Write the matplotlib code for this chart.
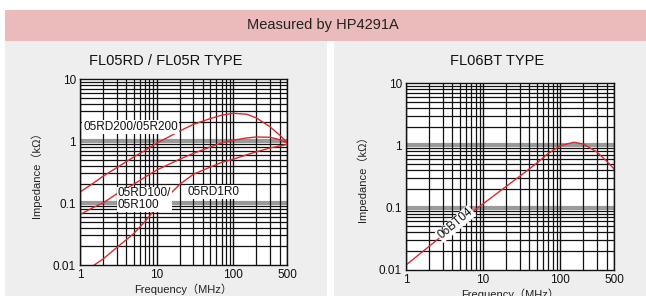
import matplotlib
matplotlib.use("Agg")
import matplotlib.pyplot as plt
from matplotlib.patches import Rectangle
from matplotlib.ticker import FixedLocator, LogLocator, NullFormatter

plt.rcParams['font.family'] = ['Liberation Sans', 'Noto Sans CJK JP', 'DejaVu Sans']

# ---------------- data ----------------
freq_l = [1, 1.5, 2, 3, 5, 7, 10, 15, 20, 30, 50, 70, 100, 150, 200, 300, 400, 500]
z_05rd200 = [0.15, 0.21, 0.27, 0.37, 0.55, 0.70, 0.92, 1.2, 1.45, 1.85, 2.3, 2.6, 2.8, 2.7, 2.35, 1.7, 1.25, 0.95]
z_05rd100 = [0.065, 0.085, 0.10, 0.14, 0.20, 0.26, 0.34, 0.43, 0.51, 0.63, 0.80, 0.93, 1.03, 1.12, 1.16, 1.15, 1.05, 0.93]
freq_1r0 = [1.5, 2, 3, 5, 7, 10, 15, 20, 30, 50, 70, 100, 150, 200, 300, 400, 500]
z_05rd1r0 = [0.0098, 0.0125, 0.019, 0.032, 0.05, 0.085, 0.14, 0.2, 0.29, 0.38, 0.45, 0.51, 0.6, 0.67, 0.77, 0.83, 0.88]

freq_r = [1, 2, 3, 5, 7, 10, 20, 30, 50, 70, 100, 150, 200, 300, 400, 500]
z_06bt04 = [0.012, 0.024, 0.036, 0.06, 0.083, 0.115, 0.22, 0.32, 0.52, 0.74, 0.98, 1.12, 1.05, 0.78, 0.56, 0.42]

x_ticks = [1, 10, 100, 500]
x_ticklabels = ["1", "10", "100", "500"]
y_ticks = [0.01, 0.1, 1, 10]
y_ticklabels = ["0.01", "0.1", "1", "10"]

header = "Measured by HP4291A"
title_l = "FL05RD / FL05R TYPE"
title_r = "FL06BT TYPE"
xlabel = "Frequency（MHz）"
ylabel = "Impedance（kΩ）"

# ---------------- figure ----------------
W, H = 646, 296
fig = plt.figure(figsize=(W / 100, H / 100), dpi=100)
fig.patch.set_facecolor("white")


def px_rect(x0, y0, x1, y1, color):
    fig.patches.append(Rectangle((x0 / W, 1 - y1 / H), (x1 - x0) / W, (y1 - y0) / H,
                                 transform=fig.transFigure, facecolor=color,
                                 edgecolor="none", zorder=-5))


px_rect(5, 10, 646, 41, "#ebbaba")
px_rect(5, 41, 327, 296, "#eeeeee")
px_rect(334, 41, 646, 296, "#eeeeee")

fig.text(323 / W, 1 - 25 / H, header, ha="center", va="center", fontsize=10.5, color="#222222")
fig.text(166 / W, 1 - 61 / H, title_l, ha="center", va="center", fontsize=10.5, color="#111111")
fig.text(497 / W, 1 - 61 / H, title_r, ha="center", va="center", fontsize=10.5, color="#111111")


def make_ax(x0, y0, x1, y1):
    ax = fig.add_axes([x0 / W, 1 - y1 / H, (x1 - x0) / W, (y1 - y0) / H])
    ax.set_facecolor("white")
    ax.set_xscale("log")
    ax.set_yscale("log")
    ax.set_xlim(1, 500)
    ax.set_ylim(0.01, 10)
    ax.xaxis.set_major_locator(FixedLocator(x_ticks))
    ax.set_xticklabels(x_ticklabels)
    ax.yaxis.set_major_locator(FixedLocator(y_ticks))
    ax.set_yticklabels(y_ticklabels)
    ax.xaxis.set_minor_locator(LogLocator(base=10, subs=range(1, 10), numticks=20))
    ax.yaxis.set_minor_locator(LogLocator(base=10, subs=range(1, 10), numticks=20))
    ax.xaxis.set_minor_formatter(NullFormatter())
    ax.yaxis.set_minor_formatter(NullFormatter())
    ax.tick_params(which="both", length=0, labelsize=8.5, colors="#111111", pad=3)
    ax.set_axisbelow(True)
    ax.grid(True, which="minor", axis="both", color="#111111", lw=0.9)
    ax.grid(True, which="major", axis="x", color="#111111", lw=1.0)
    # grey bands at the inner decades
    for yv in y_ticks[1:-1]:
        ax.axhline(yv, color="#9a9a9a", lw=3.0, zorder=0.4)
    for s in ax.spines.values():
        s.set_color("#111111")
        s.set_linewidth(1.0)
    ax.set_xlabel(xlabel, fontsize=8, color="#222222", labelpad=2)
    ax.set_ylabel(ylabel, fontsize=8, color="#222222", labelpad=8)
    return ax


red = "#d92a2f"
bbox = dict(facecolor="white", edgecolor="none", pad=0.6)

axl = make_ax(80, 79, 287, 265)
axl.plot(freq_l, z_05rd200, color=red, lw=1.0)
axl.plot(freq_l, z_05rd100, color=red, lw=1.0)
axl.plot(freq_1r0, z_05rd1r0, color=red, lw=1.0)
axl.text(1.1, 1.7, "05RD200/05R200", fontsize=8.5, color="#111111", va="center", ha="left", bbox=bbox)
axl.text(3.1, 0.115, "05RD100/\n05R100", fontsize=8.5, color="#111111", va="center", ha="left",
         linespacing=0.95, bbox=bbox)
axl.text(25, 0.15, "05RD1R0", fontsize=8.5, color="#111111", va="center", ha="left", bbox=bbox)

axr = make_ax(406, 83, 614, 270)
axr.plot(freq_r, z_06bt04, color=red, lw=1.0)
axr.text(4.4, 0.055, "06BT04", fontsize=8.5, color="#111111", va="center", ha="center",
         rotation=40, rotation_mode="anchor", bbox=bbox)

fig.savefig("out.png", dpi=100)
